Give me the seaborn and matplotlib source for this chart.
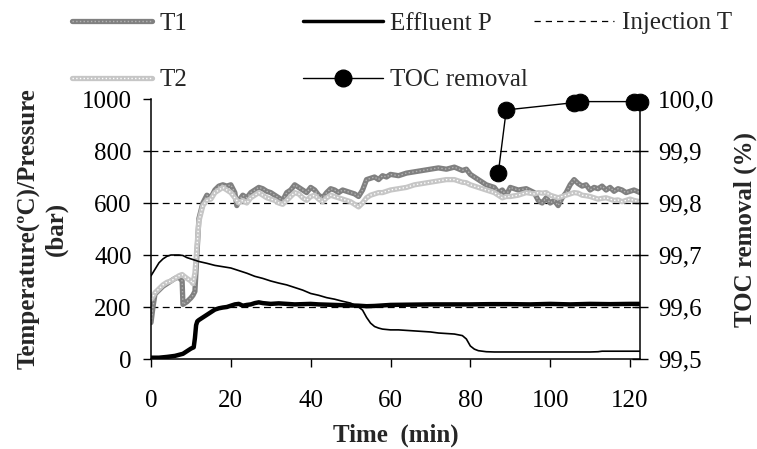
import numpy as np
import pandas as pd
import seaborn as sns
import matplotlib.pyplot as plt
from matplotlib.lines import Line2D
from matplotlib.ticker import FuncFormatter

# temperatures T1 / T2 (ºC)
temp_t = [0, 0.5, 1, 2, 3, 4, 5, 6, 7, 7.8, 8, 9, 10, 10.5, 11, 11.5, 12, 13, 14, 15,
          16, 17, 18, 19, 20, 21, 21.5, 22, 23, 24, 25, 26, 27, 28, 29, 30, 31, 32, 33, 34,
          35, 36, 37, 38, 39, 40, 41, 42, 43, 44, 45, 46, 47, 48, 49, 50, 51, 52, 53, 54,
          55, 56, 57, 58, 59, 60, 62, 64, 66, 68, 70, 72, 74, 76, 78, 79, 80, 81, 82, 83,
          84, 85, 86, 87, 88, 89, 90, 92, 94, 96, 97, 98, 99, 100, 101, 102, 103, 104, 105, 106,
          107, 108, 109, 110, 111, 112, 113, 114, 115, 116, 117, 118, 119, 120, 121, 122.5]
t1_vals = [140, 200, 250, 265, 280, 290, 300, 310, 315, 300, 210, 220, 235, 245, 260, 400, 540, 600, 630, 620,
           650, 665, 670, 665, 670, 640, 590, 610, 630, 620, 640, 650, 660, 655, 645, 640, 630, 620, 610, 640,
           650, 670, 660, 650, 640, 660, 650, 630, 620, 640, 655, 650, 640, 650, 645, 640, 635, 625, 650, 690,
           695, 700, 690, 705, 700, 710, 705, 715, 720, 725, 730, 735, 730, 738, 725, 730, 710, 700, 690, 680,
           670, 665, 660, 640, 650, 630, 660, 650, 655, 640, 610, 600, 620, 600, 610, 590, 620, 640, 670, 690,
           675, 665, 670, 650, 660, 655, 665, 650, 660, 645, 655, 650, 640, 645, 650, 640]
t2_vals = [230, 240, 255, 270, 285, 295, 300, 310, 320, 325, 322, 310, 300, 290, 330, 430, 530, 590, 610, 615,
           640, 650, 660, 650, 640, 620, 610, 600, 610, 600, 620, 630, 640, 630, 620, 615, 610, 600, 595, 610,
           625, 640, 635, 620, 610, 625, 630, 615, 605, 620, 630, 625, 620, 615, 610, 605, 595, 585, 600, 620,
           630, 635, 640, 640, 645, 650, 655, 660, 670, 675, 680, 685, 690, 690, 680, 678, 670, 665, 660, 655,
           650, 645, 640, 630, 620, 625, 625, 630, 640, 635, 640, 638, 640, 630, 625, 620, 625, 630, 635, 640,
           638, 630, 628, 625, 620, 615, 618, 620, 615, 610, 612, 605, 610, 615, 610, 605]

# effluent pressure (bar)
p_t = [0, 2, 4, 6, 8, 9, 10, 10.7, 11, 11.3, 11.6, 12, 13, 14, 15, 16, 17, 18, 19, 20,
       21, 22, 23, 24, 25, 26, 27, 28, 30, 32, 34, 36, 38, 40, 42, 44, 46, 48, 50, 52,
       54, 56, 58, 60, 65, 70, 75, 80, 85, 90, 95, 100, 105, 110, 115, 120, 122.5]
p_vals = [5, 5, 8, 12, 20, 30, 40, 45, 80, 130, 145, 150, 160, 170, 180, 190, 195, 198, 200, 205,
          210, 212, 205, 208, 210, 215, 218, 215, 212, 214, 212, 210, 211, 212, 210, 209, 208, 207, 206, 205,
          203, 204, 206, 208, 209, 210, 210, 210, 211, 211, 210, 212, 210, 212, 211, 212, 212]

# injection temperature (ºC)
inj_t = [0, 1, 2, 3, 4, 5, 6, 7, 8, 9, 10, 11, 12, 14, 16, 18, 20, 22, 24, 26,
         28, 30, 32, 34, 36, 38, 40, 42, 44, 46, 48, 50, 52, 53, 54, 55, 56, 57, 58, 60,
         62, 64, 66, 68, 70, 72, 74, 76, 78, 79, 80, 81, 82, 84, 86, 90, 95, 100, 105, 110,
         112, 113, 115, 120, 122.5]
inj_vals = [320, 345, 370, 385, 395, 400, 400, 400, 398, 390, 385, 380, 375, 368, 360, 355, 350, 340, 330, 318,
            310, 300, 292, 285, 275, 265, 252, 245, 236, 230, 222, 215, 200, 188, 160, 138, 125, 119, 115, 112,
            112, 110, 108, 106, 104, 100, 98, 96, 90, 77, 50, 38, 32, 28, 27, 27, 27, 27, 27, 27,
            28, 30, 30, 30, 30]

# TOC removal (%)
toc_t = [87, 89, 106, 107.5, 121, 122.5]
toc_vals = [99.858, 99.979, 99.993, 99.995, 99.995, 99.995]

sns.set_style("white")
plt.rcParams['font.family'] = ['Liberation Serif', 'DejaVu Serif']
plt.rcParams['font.size'] = 18

fig = plt.figure(figsize=(7.57, 4.49), dpi=100)
ax = fig.add_axes([151 / 757, 1 - 359 / 449, (640 - 151) / 757, (359 - 99) / 449])

for yv in [200, 400, 600, 800]:
    ax.axhline(yv, color='black', lw=0.9, dashes=(5.5, 3.5), zorder=0.5)

t1_dark, t1_dots = '#808080', '#b4b4b4'
t2_light, t2_dots = '#c6c6c6', 'white'

sns.lineplot(x=temp_t, y=t1_vals, ax=ax, color=t1_dark, linewidth=3.8, sort=False)
sns.lineplot(x=temp_t, y=t1_vals, ax=ax, color=t1_dots, linewidth=1.0, linestyle=':', sort=False)
sns.lineplot(x=temp_t, y=t2_vals, ax=ax, color=t2_light, linewidth=3.8, sort=False)
sns.lineplot(x=temp_t, y=t2_vals, ax=ax, color=t2_dots, linewidth=1.0, linestyle=':', sort=False)
sns.lineplot(x=inj_t, y=inj_vals, ax=ax, color='black', linewidth=1.2, sort=False)
sns.lineplot(x=p_t, y=p_vals, ax=ax, color='black', linewidth=3.2, sort=False)

ax.set_xlim(0, 122.5)
ax.set_ylim(0, 1000)
ax.set_xticks([0, 20, 40, 60, 80, 100, 120])
ax.set_yticks([0, 200, 400, 600, 800, 1000])
ax.tick_params(axis='x', direction='out', length=6, width=1, pad=16, colors='black', bottom=True)
ax.tick_params(axis='y', direction='out', length=6, width=1, pad=8, colors='black', left=True)
ax.set_xlabel('Time  (min)', fontweight='bold', labelpad=9)
ax.set_ylabel('Temperature(ºC)/Pressure\n(bar)', fontweight='bold', labelpad=10, linespacing=1.2)
for s in ['left', 'bottom']:
    ax.spines[s].set_color('black')
    ax.spines[s].set_linewidth(1.1)
ax.spines['top'].set_visible(False)
ax.spines['right'].set_visible(False)

ax2 = ax.twinx()
sns.lineplot(x=toc_t, y=toc_vals, ax=ax2, color='black', linewidth=1.0, marker='o',
             markersize=12, markeredgecolor='black', sort=False, clip_on=False)
ax2.set_ylim(99.5, 100.0)
ax2.set_yticks([99.5, 99.6, 99.7, 99.8, 99.9, 100.0])
ax2.yaxis.set_major_formatter(FuncFormatter(lambda v, p: f"{v:.1f}".replace('.', ',')))
ax2.tick_params(axis='y', direction='inout', length=12, width=1, pad=7, colors='black', right=True)
ax2.set_ylabel('TOC removal (%)', fontweight='bold', labelpad=14)
ax2.spines['right'].set_color('black')
ax2.spines['right'].set_linewidth(1.1)
for s in ['top', 'left', 'bottom']:
    ax2.spines[s].set_visible(False)

# legend, three columns placed by hand
h_t1 = (Line2D([], [], color=t1_dark, lw=3.8), Line2D([], [], color=t1_dots, lw=1.0, ls=':'))
h_t2 = (Line2D([], [], color=t2_light, lw=3.8), Line2D([], [], color=t2_dots, lw=1.0, ls=':'))
h_p = Line2D([], [], color='black', lw=2.5)
h_toc = Line2D([], [], color='black', lw=1.0, marker='o', markersize=12)
h_inj = Line2D([], [], color='black', lw=0.9, dashes=(5, 4))

leg_kw = dict(loc='upper left', frameon=False, handlelength=3.2, handletextpad=0.3,
              labelspacing=1.38, borderpad=0, borderaxespad=0, fontsize=18)
top_y = 1 - 12 / 449
fig.legend([h_t1, h_t2], ['T1', 'T2'], bbox_to_anchor=(72 / 757, top_y), **leg_kw)
fig.legend([h_p, h_toc], ['Effluent P', 'TOC removal'], bbox_to_anchor=(303 / 757, top_y),
           numpoints=1, **leg_kw)
fig.legend([h_inj], ['Injection T'], bbox_to_anchor=(534 / 757, top_y), **leg_kw)

fig.savefig('out.png', dpi=100)
